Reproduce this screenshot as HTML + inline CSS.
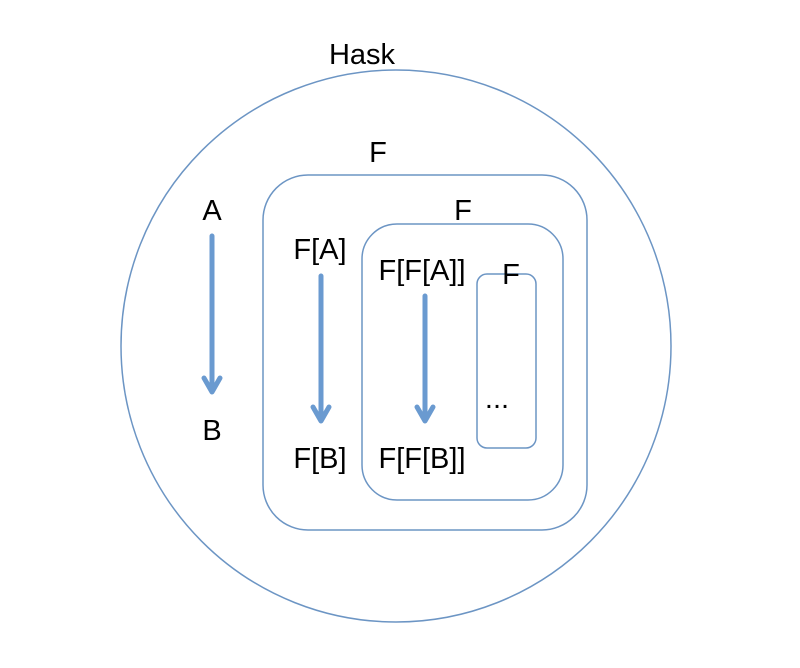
<!DOCTYPE html>
<html><head><meta charset="utf-8"><style>
html,body{margin:0;padding:0;background:#fff;width:800px;height:668px;overflow:hidden}
svg text{font-family:"Liberation Sans",sans-serif;font-size:29px;fill:#000}
</style></head><body>
<svg width="800" height="668" viewBox="0 0 800 668">
<ellipse cx="396" cy="346" rx="275" ry="276" fill="none" stroke="#6c95c4" stroke-width="1.5"/>
<rect x="263" y="175" width="324" height="355" rx="45" fill="none" stroke="#6c95c4" stroke-width="1.5"/>
<rect x="362" y="224" width="201" height="276" rx="35" fill="none" stroke="#6c95c4" stroke-width="1.5"/>
<rect x="477" y="274" width="59" height="174" rx="10" fill="none" stroke="#6c95c4" stroke-width="1.5"/>
<g stroke="#6a9ad0" stroke-width="5" fill="none" stroke-linecap="round" stroke-linejoin="round">
<path d="M212 236 V392 M204 378 L212 392 L220 378"/>
<path d="M321 276 V421 M313 407 L321 421 L329 407"/>
<path d="M425 296 V421 M417 407 L425 421 L433 407"/>
</g>
<text x="362" y="64" text-anchor="middle">Hask</text>
<text x="378" y="162" text-anchor="middle">F</text>
<text x="463" y="220" text-anchor="middle">F</text>
<text x="511" y="284" text-anchor="middle">F</text>
<text x="212" y="220" text-anchor="middle">A</text>
<text x="212" y="440" text-anchor="middle">B</text>
<text x="320" y="259" text-anchor="middle">F[A]</text>
<text x="320" y="468" text-anchor="middle">F[B]</text>
<text x="422" y="280" text-anchor="middle">F[F[A]]</text>
<text x="422" y="468" text-anchor="middle">F[F[B]]</text>
<text x="497" y="408" text-anchor="middle">...</text>
</svg>
</body></html>
